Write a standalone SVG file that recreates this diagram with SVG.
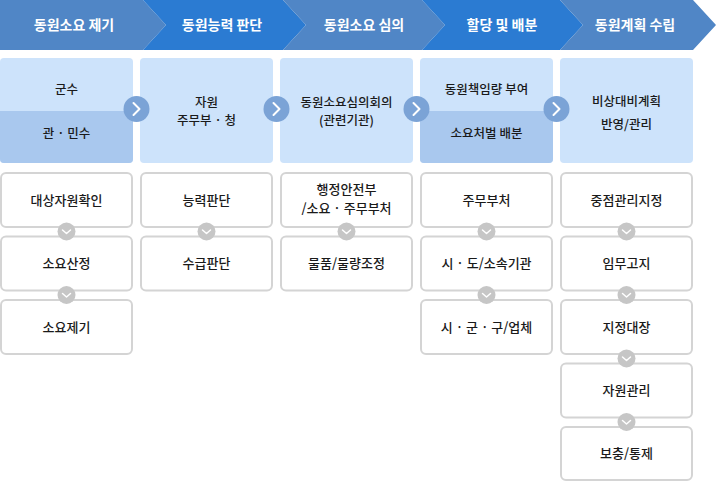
<svg xmlns="http://www.w3.org/2000/svg" width="720" height="482" viewBox="0 0 720 482">
<defs>
<style>
.hm{fill:#5086c6}
.hb{fill:#2b7bd2}
.ht{font-family:"Noto Sans CJK KR","Noto Sans",sans-serif;font-size:14px;fill:#fff;text-anchor:middle;font-weight:700}
.card{fill:#cde3fb}
.cardd{fill:#a9c8ee}
.ct{font-family:"Noto Sans CJK KR","Noto Sans",sans-serif;font-size:12.5px;fill:#1a1a1a;text-anchor:middle;font-weight:500}
.box{fill:#fff;stroke:#d4d4d4;stroke-width:2}
.bt{font-family:"Noto Sans CJK KR","Noto Sans",sans-serif;font-size:13px;fill:#1a1a1a;text-anchor:middle;font-weight:500}
.rc{fill:#7ba3d6}
.gc{fill:#c6c6c6}
.chev{fill:none;stroke:#fff;stroke-width:2;stroke-linecap:round;stroke-linejoin:round}
.chevs{fill:none;stroke:#fff;stroke-width:1.5;stroke-linecap:round;stroke-linejoin:round}
</style>
<g id="rarrow"><circle class="rc" r="13"/><path class="chev" d="M-3,-6 L3,0 L-3,6"/></g>
<g id="darrow"><circle class="gc" r="9"/><path class="chevs" d="M-4,-1.5 L0,2 L4,-1.5"/></g>
</defs>
<rect width="720" height="482" fill="#fff"/>

<g id="header">
<polygon class="hm" points="0,0 143,0 166,25 143,50 0,50"/>
<polygon class="hb" points="143,0 283,0 306,25 283,50 143,50 166,25"/>
<polygon class="hm" points="283,0 422,0 445,25 422,50 283,50 306,25"/>
<polygon class="hb" points="422,0 560,0 583,25 560,50 422,50 445,25"/>
<polygon class="hm" points="560,0 693,0 716,25 693,50 560,50 583,25"/>
<text class="ht" x="74" y="30">동원소요 제기</text>
<text class="ht" x="222" y="30">동원능력 판단</text>
<text class="ht" x="364" y="30">동원소요 심의</text>
<text class="ht" x="502" y="30">할당 및 배분</text>
<text class="ht" x="635" y="30">동원계획 수립</text>
</g>

<g id="card1">
<rect class="card" x="0" y="58" width="133" height="105" rx="4"/>
<path class="cardd" d="M0,111 H133 V159 A4,4 0 0 1 129,163 H4 A4,4 0 0 1 0,159 Z"/>
<text class="ct" x="66.5" y="94">군수</text>
<text class="ct" x="66.5" y="138">관 · 민수</text>
</g>
<g id="card2">
<rect class="card" x="140" y="58" width="133" height="105" rx="4"/>
<text class="ct" x="206.5" y="107">자원</text>
<text class="ct" x="206.5" y="125">주무부 · 청</text>
</g>
<g id="card3">
<rect class="card" x="280" y="58" width="133" height="105" rx="4"/>
<text class="ct" x="346.5" y="107">동원소요심의회의</text>
<text class="ct" x="346.5" y="125">(관련기관)</text>
</g>
<g id="card4">
<rect class="card" x="420" y="58" width="133" height="105" rx="4"/>
<path class="cardd" d="M420,111 H553 V159 A4,4 0 0 1 549,163 H424 A4,4 0 0 1 420,159 Z"/>
<text class="ct" x="486.5" y="94">동원책임량 부여</text>
<text class="ct" x="486.5" y="138">소요처벌 배분</text>
</g>
<g id="card5">
<rect class="card" x="560" y="58" width="133" height="105" rx="4"/>
<text class="ct" x="626.5" y="106">비상대비계획</text>
<text class="ct" x="626.5" y="129">반영/관리</text>
</g>

<g id="col1">
<rect class="box" x="1" y="173" width="131" height="54" rx="5"/>
<text class="bt" x="66.5" y="204.5">대상자원확인</text>
<rect class="box" x="1" y="236.5" width="131" height="54" rx="5"/>
<text class="bt" x="66.5" y="268">소요산정</text>
<rect class="box" x="1" y="300" width="131" height="54" rx="5"/>
<text class="bt" x="66.5" y="331.5">소요제기</text>
</g>
<g id="col2">
<rect class="box" x="141" y="173" width="131" height="54" rx="5"/>
<text class="bt" x="206.5" y="204.5">능력판단</text>
<rect class="box" x="141" y="236.5" width="131" height="54" rx="5"/>
<text class="bt" x="206.5" y="268">수급판단</text>
</g>
<g id="col3">
<rect class="box" x="281" y="173" width="131" height="54" rx="5"/>
<text class="bt" x="346.5" y="194">행정안전부</text>
<text class="bt" x="346.5" y="213">/소요 · 주무부처</text>
<rect class="box" x="281" y="236.5" width="131" height="54" rx="5"/>
<text class="bt" x="346.5" y="268">물품/물량조정</text>
</g>
<g id="col4">
<rect class="box" x="421" y="173" width="131" height="54" rx="5"/>
<text class="bt" x="486.5" y="204.5">주무부처</text>
<rect class="box" x="421" y="236.5" width="131" height="54" rx="5"/>
<text class="bt" x="486.5" y="268">시 · 도/소속기관</text>
<rect class="box" x="421" y="300" width="131" height="54" rx="5"/>
<text class="bt" x="486.5" y="331.5">시 · 군 · 구/업체</text>
</g>
<g id="col5">
<rect class="box" x="561" y="173" width="131" height="54" rx="5"/>
<text class="bt" x="626.5" y="204.5">중점관리지정</text>
<rect class="box" x="561" y="236.5" width="131" height="54" rx="5"/>
<text class="bt" x="626.5" y="268">임무고지</text>
<rect class="box" x="561" y="300" width="131" height="54" rx="5"/>
<text class="bt" x="626.5" y="331.5">지정대장</text>
<rect class="box" x="561" y="363.5" width="131" height="54" rx="5"/>
<text class="bt" x="626.5" y="395">자원관리</text>
<rect class="box" x="561" y="427" width="131" height="53" rx="5"/>
<text class="bt" x="626.5" y="458">보충/통제</text>
</g>

<g id="connectors">
<use href="#rarrow" x="136.5" y="109"/>
<use href="#rarrow" x="276.5" y="109"/>
<use href="#rarrow" x="416.5" y="109"/>
<use href="#rarrow" x="556.5" y="109"/>
<use href="#darrow" x="66.5" y="231.5"/>
<use href="#darrow" x="66.5" y="295"/>
<use href="#darrow" x="206.5" y="231.5"/>
<use href="#darrow" x="346.5" y="231.5"/>
<use href="#darrow" x="486.5" y="231.5"/>
<use href="#darrow" x="486.5" y="295"/>
<use href="#darrow" x="626.5" y="231.5"/>
<use href="#darrow" x="626.5" y="295"/>
<use href="#darrow" x="626.5" y="358.5"/>
<use href="#darrow" x="626.5" y="422"/>
</g>
</svg>
